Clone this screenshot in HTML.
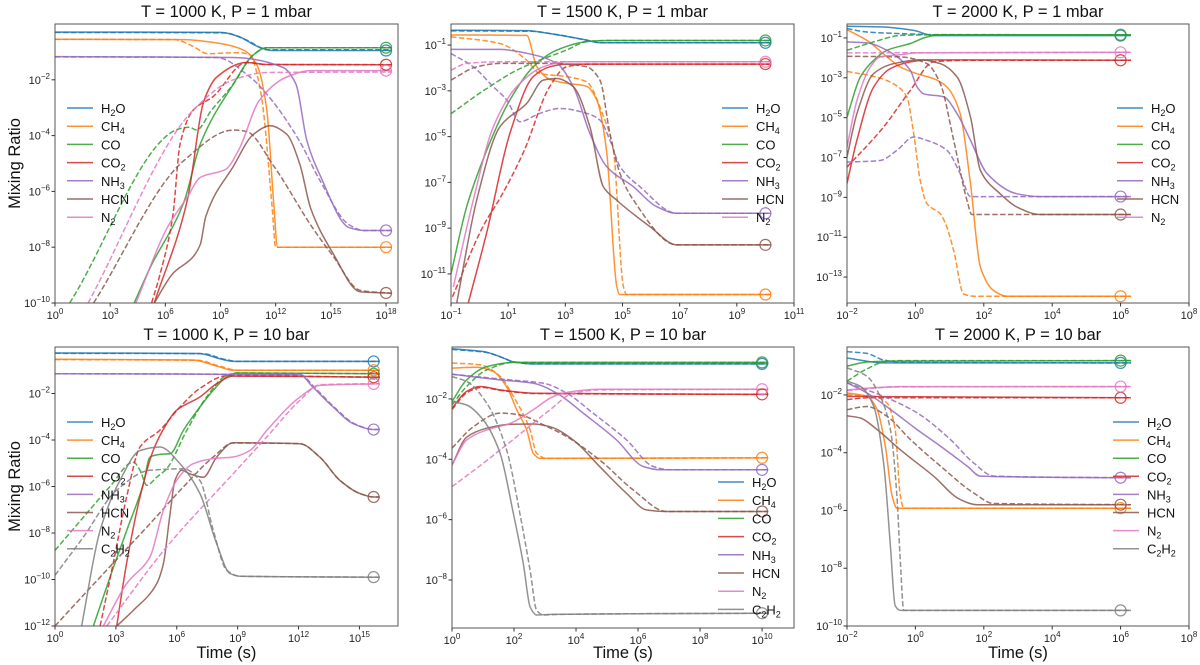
<!DOCTYPE html>
<html><head><meta charset="utf-8"><style>
html,body{margin:0;padding:0;background:#fff;}
svg{display:block;font-family:"Liberation Sans","DejaVu Sans",sans-serif;}
</style></head><body>
<svg id="fig" width="1200" height="665" viewBox="0 0 1200 665" xmlns="http://www.w3.org/2000/svg"></svg>
<script>
// ---------- DATA: [log10 time, log10 mixing ratio] ----------
// Panel TL: T=1000K, P=1 mbar
const tl_h2o=[[0,-.29],[9,-.3],[10,-.45],[11,-.8],[11.8,-.95],[18.3,-.95]];
const tl_h2o_d=[[0,-.3],[9.2,-.32],[10.5,-.6],[11.5,-.92],[18.3,-.92]];
const tl_ch4=[[0,-.55],[7,-.56],[9,-.7],[10.3,-.95],[11,-1.5],[11.5,-3],[11.9,-6.5],[12.1,-8],[18.3,-8]];
const tl_ch4_d=[[0,-.55],[6.5,-.56],[7.5,-.8],[8.3,-1.06],[10,-1.03],[10.6,-1.1],[11.2,-2.5],[11.8,-6.5],[12,-8],[18.3,-8]];
const tl_co=[[4.3,-10],[5.2,-8.7],[7,-6.4],[7.9,-4.3],[9.7,-2.15],[10.8,-1.1],[11.5,-.85],[18.3,-.85]];
const tl_co_d=[[0.8,-10],[6.8,-3.75],[7.3,-3.7],[7.7,-3.8],[8.5,-3.1],[9.7,-2.15],[10.8,-1.1],[11.5,-.85],[18.3,-.85]];
const tl_co2=[[5.4,-10],[7.2,-6.3],[8.1,-2.75],[8.8,-1.9],[10.4,-1.38],[11.5,-1.45],[18.3,-1.46]];
const tl_co2_d=[[5.25,-10],[5.7,-9],[6.4,-6.9],[6.8,-4.3],[7.5,-3.1],[8.6,-2.6],[10.4,-1.38],[11.5,-1.45],[18.3,-1.46]];
const tl_nh3=[[0,-1.17],[9.7,-1.2],[12.4,-1.56],[13.1,-2.15],[13.7,-4.2],[14.4,-5.4],[16,-7.3],[16.8,-7.4],[18.3,-7.4]];
const tl_nh3_d=[[0,-1.18],[8.8,-1.2],[10.6,-1.9],[11.5,-2.5],[13.3,-4.2],[14.4,-5.6],[16,-7.2],[16.8,-7.4],[18.3,-7.4]];
const tl_hcn=[[5.4,-10],[6.4,-8.95],[7.5,-8.35],[7.9,-7.9],[8.2,-6.9],[9.7,-5.1],[10.8,-3.95],[11.7,-3.65],[12.6,-3.95],[13.3,-5],[13.9,-6.6],[15.1,-8.2],[16.6,-9.6],[18.3,-9.65]];
const tl_hcn_d=[[2.1,-10],[7,-4.9],[9.7,-3.8],[10.4,-3.85],[11.9,-5.1],[14,-7.3],[15.1,-8.3],[16.6,-9.55],[18.3,-9.65]];
const tl_n2=[[4.4,-10],[6.1,-7.3],[7.2,-6.2],[7.9,-5.5],[9.3,-5.2],[10,-4.5],[11.1,-2.75],[12.6,-1.9],[13.9,-1.67],[18.3,-1.67]];
const tl_n2_d=[[1.8,-10],[7.5,-3.1],[9.7,-2],[11.5,-1.74],[18.3,-1.72]];
// Panel TM: T=1500K, P=1 mbar
const tm_h2o=[[-1,-.35],[1.65,-.37],[2.46,-.5],[3.74,-.78],[4.2,-.9],[10.2,-.9]];
const tm_h2o_d=[[-1,-.38],[1.8,-.4],[2.6,-.52],[3.8,-.8],[4.3,-.9],[10.2,-.9]];
const tm_ch4=[[-1,-.56],[1.65,-.58],[2,-1.95],[2.46,-2.5],[3.05,-2.67],[3.74,-2.8],[4.1,-3.4],[4.44,-5.6],[4.8,-11.55],[4.9,-11.9],[10.2,-11.9]];
const tm_ch4_d=[[-1,-.64],[.71,-.93],[1.65,-1.66],[2.1,-2.24],[3.04,-2.38],[3.74,-2.6],[4.33,-4.1],[4.68,-5.6],[5.03,-11.55],[5.14,-11.9],[10.2,-11.9]];
const tm_co=[[-1,-11],[-.45,-8.06],[.25,-5.6],[1.06,-3.4],[1.88,-1.95],[2.7,-1.22],[3.74,-.85],[4.5,-.8],[10.2,-.8]];
const tm_co_d=[[-1,-4],[.13,-3],[1.3,-2.1],[2.1,-1.66],[3.04,-1.22],[3.74,-.85],[4.5,-.8],[10.2,-.8]];
const tm_co2=[[-.4,-12.3],[.25,-9.2],[1.06,-4.86],[1.88,-2.38],[2.46,-1.95],[3.04,-1.83],[10.2,-1.83]];
const tm_co2_d=[[-.95,-12],[.13,-8.9],[.71,-7.7],[1.53,-5.7],[2.46,-2.8],[3.04,-1.95],[3.8,-1.83],[10.2,-1.83]];
const tm_nh3=[[-1,-1.19],[.71,-1.19],[1.65,-1.36],[2.7,-1.8],[3.28,-2.82],[3.86,-4.86],[4.44,-6.3],[5.38,-7.19],[6.19,-8.06],[6.9,-8.35],[10.2,-8.35]];
const tm_nh3_d=[[-1,-1.37],[-.22,-1.95],[.48,-2.82],[.95,-3.4],[1.41,-4.35],[2.11,-3.98],[2.81,-3.77],[3.74,-3.98],[4.21,-4.28],[4.56,-5.15],[4.91,-6.3],[5.61,-7.19],[6.9,-8.35],[10.2,-8.35]];
const tm_hcn=[[-.8,-12.27],[-.1,-7.77],[.71,-4.57],[1.65,-3.55],[2.23,-2.53],[2.7,-2.46],[3.28,-2.82],[3.86,-4.57],[4.33,-7.19],[4.79,-7.77],[5.96,-8.93],[6.9,-9.73],[10.2,-9.73]];
const tm_hcn_d=[[-1,-2.53],[-.1,-1.95],[.71,-1.8],[2.46,-1.8],[3.74,-1.95],[4.21,-2.53],[4.56,-4.86],[4.91,-6.6],[5.38,-7.77],[6.9,-9.73],[10.2,-9.73]];
const tm_n2=[[-.92,-11.57],[-.22,-7.77],[.48,-4.57],[1.3,-2.82],[2.23,-1.95],[3.04,-1.73],[10.2,-1.73]];
const tm_n2_d=[[-1,-2.1],[-.45,-1.8],[.71,-1.73],[10.2,-1.73]];
// Panel TR: T=2000K, P=1 mbar
const tr_h2o=[[-2,-.41],[-.93,-.45],[-.05,-.62],[.53,-.88],[6.3,-.88]];
const tr_h2o_d=[[-2,-.53],[-1.42,-.7],[-.44,-.78],[.53,-.83],[6.3,-.84]];
const tr_ch4=[[-2,-.58],[-1.42,-1.12],[-.83,-1.95],[-.44,-2.46],[.05,-2.8],[.53,-3.04],[.92,-3.46],[1.31,-4.8],[1.61,-8.32],[1.9,-12.5],[2.29,-13.68],[2.68,-13.96],[6.3,-13.96]];
const tr_ch4_d=[[-2,-2.68],[-1.12,-2.97],[-.64,-3.3],[-.25,-3.97],[-.05,-5.8],[.14,-8.15],[.34,-9.32],[.73,-9.83],[.92,-10.5],[1.12,-11.67],[1.41,-13.85],[1.7,-13.96],[6.3,-13.96]];
const tr_co=[[-2,-4.97],[-1.61,-2.96],[-1.22,-2.12],[-.83,-1.62],[-.15,-1.28],[.34,-.95],[.73,-.84],[6.3,-.84]];
const tr_co_d=[[-2,-1.62],[-1.22,-1.2],[-.44,-.87],[.5,-.84],[6.3,-.84]];
const tr_co2=[[-2,-8.3],[-1.71,-6.13],[-1.22,-3.46],[-.73,-2.54],[-.15,-2.2],[.34,-2.1],[6.3,-2.12]];
const tr_co2_d=[[-2,-7.48],[-.93,-5.47],[-.15,-3.63],[.53,-2.2],[1.51,-2.12],[6.3,-2.12]];
const tr_nh3=[[-2,-1.2],[-1.42,-1.25],[-.83,-1.62],[-.15,-2.62],[.05,-3.46],[.24,-3.8],[.83,-3.96],[1.22,-4.8],[1.61,-6.14],[2.1,-7.81],[2.97,-8.82],[3.65,-8.96],[6.3,-8.96]];
const tr_nh3_d=[[-2,-7.23],[-1.03,-7.15],[-.54,-6.64],[-.05,-5.97],[.34,-6.14],[.92,-6.64],[1.31,-7.81],[1.61,-8.96],[6.3,-8.96]];
const tr_hcn=[[-2,-6.98],[-1.71,-4.8],[-1.22,-2.79],[-.64,-2.29],[.14,-2.09],[.73,-2.29],[1.22,-2.96],[1.61,-4.97],[1.9,-7.65],[2.48,-8.82],[2.97,-9.49],[3.65,-9.86],[6.3,-9.86]];
const tr_hcn_d=[[-2,-1.92],[-.44,-1.95],[.34,-2.29],[.73,-3.3],[1.12,-6.14],[1.51,-9.15],[1.65,-9.86],[6.3,-9.86]];
const tr_n2=[[-2,-6.48],[-1.71,-4.14],[-1.32,-2.46],[-1.03,-1.95],[-.44,-1.84],[.05,-1.75],[6.3,-1.72]];
const tr_n2_d=[[-2,-1.75],[6.3,-1.72]];
// Panel BL: T=1000K, P=10 bar
const bl_h2o=[[0,-.26],[7.1,-.28],[8.1,-.5],[8.8,-.62],[16,-.62]];
const bl_h2o_d=[[0,-.27],[7.3,-.29],[8.3,-.52],[9,-.62],[16,-.62]];
const bl_ch4=[[0,-.53],[6.8,-.56],[7.9,-.8],[8.8,-1.0],[16,-1.0]];
const bl_ch4_d=[[0,-.54],[7,-.57],[8.1,-.82],[9,-1.0],[16,-1.0]];
const bl_co=[[1.89,-12],[2.71,-9.9],[3.53,-7.9],[4.35,-5.9],[4.68,-4.73],[5.17,-4.62],[5.67,-4.59],[6.32,-3.59],[7.14,-2.58],[7.8,-1.86],[8.46,-1.29],[8.95,-1.12],[16,-1.15]];
const bl_co_d=[[0,-8.75],[1.4,-7.32],[2.71,-6.0],[3.86,-4.95],[4.19,-5.3],[4.52,-5.95],[5.01,-5.6],[5.5,-5.24],[6.49,-3.59],[7.47,-2.15],[8.46,-1.22],[8.95,-1.12],[16,-1.15]];
const bl_co2=[[3.04,-12],[3.53,-9.3],[4.19,-6.45],[4.84,-4.45],[5.5,-3.3],[5.99,-2.72],[7.14,-2.15],[7.96,-1.58],[8.78,-1.25],[16,-1.3]];
const bl_co2_d=[[2.22,-12],[2.87,-9.3],[3.53,-6.45],[4.19,-4.3],[5.17,-3.58],[6.16,-2.58],[7.14,-1.78],[8.46,-1.24],[16,-1.3]];
const bl_nh3=[[0,-1.15],[12.07,-1.2],[12.7,-1.72],[13.7,-2.58],[14.7,-3.3],[15.7,-3.55],[16,-3.55]];
const bl_nh3_d=[[0,-1.15],[12.1,-1.2],[12.8,-1.75],[13.8,-2.62],[14.8,-3.32],[15.7,-3.55],[16,-3.55]];
const bl_hcn=[[3.04,-12],[3.86,-11.33],[5.01,-10.18],[5.34,-9.32],[5.67,-7.17],[5.91,-5.74],[6.24,-5.3],[6.65,-5.46],[7.31,-5.6],[7.96,-4.74],[8.78,-4.12],[12.07,-4.16],[13.05,-4.74],[14.04,-5.74],[15.02,-6.3],[15.7,-6.45],[16,-6.45]];
const bl_hcn_d=[[0,-12],[2.22,-9.9],[4.68,-7.6],[6.32,-6.02],[7.8,-4.73],[8.78,-4.13],[12.07,-4.16],[13.05,-4.74],[14.04,-5.74],[15.02,-6.3],[15.7,-6.45],[16,-6.45]];
const bl_n2=[[2.38,-12],[3.53,-10.18],[4.68,-9.03],[5.34,-7.02],[5.99,-5.74],[6.81,-5.02],[7.8,-4.8],[8.78,-4.73],[9.61,-4.45],[10.43,-3.59],[12.07,-2.15],[13.05,-1.65],[16,-1.58]];
const bl_n2_d=[[2.55,-12],[5.5,-8.6],[8.78,-5.45],[10.43,-3.87],[12.07,-2.29],[13.05,-1.62],[16,-1.58]];
const bl_c2h2=[[1.31,-12],[2.22,-7.89],[3.2,-5.74],[4.19,-4.45],[5.17,-4.3],[6.16,-5.02],[7.14,-6.3],[7.96,-8.45],[8.62,-9.74],[9.11,-9.86],[16,-9.9]];
const bl_c2h2_d=[[0,-9.82],[1.4,-8.17],[3.04,-6.16],[4.68,-5.3],[6.32,-5.24],[7.14,-5.74],[7.8,-7.89],[8.46,-9.6],[9.11,-9.86],[16,-9.9]];
// Panel BM: T=1500K, P=10 bar
const bm_h2o=[[0,-.34],[1.01,-.43],[1.55,-.6],[1.98,-.77],[2.6,-.84],[10.2,-.84]];
const bm_h2o_d=[[0,-.36],[1.1,-.46],[1.65,-.64],[2.05,-.79],[2.7,-.84],[10.2,-.84]];
const bm_ch4=[[0,-.98],[.8,-.95],[1.33,-1.09],[1.76,-1.6],[2.09,-2.36],[2.41,-3.03],[2.62,-3.8],[2.84,-3.97],[10.2,-3.95]];
const bm_ch4_d=[[0,-.81],[.9,-.87],[1.55,-1.25],[1.98,-1.92],[2.52,-3.03],[2.73,-3.8],[3.05,-3.97],[10.2,-3.95]];
const bm_co=[[0,-2.09],[.47,-1.37],[1.12,-.93],[1.98,-.79],[10.2,-.79]];
const bm_co_d=[[0,-2.2],[.47,-1.59],[1.12,-1.04],[1.98,-.79],[10.2,-.79]];
const bm_co2=[[0,-2.31],[.47,-1.75],[.9,-1.59],[1.55,-1.7],[2.62,-1.81],[10.2,-1.85]];
const bm_co2_d=[[0,-2.35],[.5,-1.78],[.95,-1.62],[1.6,-1.72],[2.7,-1.82],[10.2,-1.85]];
const bm_nh3=[[0,-1.18],[1.55,-1.37],[2.62,-1.48],[3.38,-1.81],[4.24,-2.48],[5.31,-3.36],[6.17,-4.24],[6.71,-4.35],[10.2,-4.35]];
const bm_nh3_d=[[0,-1.18],[1.87,-1.37],[2.95,-1.48],[3.7,-1.81],[4.56,-2.48],[5.63,-3.36],[6.49,-4.24],[7.03,-4.35],[10.2,-4.35]];
const bm_hcn=[[0,-4.19],[.47,-3.27],[1.12,-2.97],[1.87,-2.84],[2.62,-2.83],[3.16,-2.92],[3.91,-3.36],[4.77,-4.25],[5.63,-5.13],[6.28,-5.68],[6.92,-5.73],[10.2,-5.73]];
const bm_hcn_d=[[0,-3.63],[.69,-2.92],[1.55,-2.47],[2.19,-2.53],[2.95,-2.86],[3.7,-3.25],[4.77,-4.03],[5.85,-5.02],[6.92,-5.73],[10.2,-5.73]];
const bm_n2=[[0,-4.19],[.47,-3.36],[1.12,-3.03],[1.87,-2.81],[2.62,-2.36],[3.27,-1.92],[3.91,-1.75],[4.77,-1.68],[10.2,-1.68]];
const bm_n2_d=[[0,-4.91],[1.01,-4.13],[2.09,-3.25],[3.16,-2.36],[3.91,-1.81],[4.77,-1.7],[10.2,-1.68]];
const bm_c2h2=[[0,-2.09],[.47,-2.2],[1.01,-2.7],[1.55,-3.8],[1.98,-5.8],[2.3,-7.46],[2.52,-8.89],[2.73,-9.16],[3.2,-9.14],[10.2,-9.1]];
const bm_c2h2_d=[[0,-1.26],[.47,-1.42],[1.12,-2.14],[1.76,-3.69],[2.19,-5.8],[2.52,-7.68],[2.73,-9.0],[2.95,-9.16],[3.4,-9.14],[10.2,-9.1]];
// Panel BR: T=2000K, P=10 bar
const br_h2o=[[-2,-.72],[-.93,-.89],[6.3,-.89]];
const br_h2o_d=[[-2,-.5],[-1.42,-.56],[-.93,-.79],[-.44,-.87],[6.3,-.89]];
const br_ch4=[[-2,-1.93],[-1.42,-2.05],[-1.12,-2.5],[-.88,-3.77],[-.68,-5.5],[-.54,-5.92],[6.3,-5.92]];
const br_ch4_d=[[-2,-1.99],[-1.22,-2.05],[-.83,-2.28],[-.59,-3.2],[-.44,-5.5],[-.34,-5.92],[6.3,-5.92]];
const br_co=[[-2,-1.0],[-1.42,-.86],[-.93,-.83],[6.3,-.81]];
const br_co_d=[[-2,-1.52],[-1.42,-1.1],[-.93,-.86],[-.44,-.81],[6.3,-.81]];
const br_co2=[[-2,-2.05],[6.3,-2.1]];
const br_co2_d=[[-2,-2.16],[-1.4,-2.1],[6.3,-2.1]];
const br_nh3=[[-2,-1.58],[-1.42,-1.93],[-.73,-2.5],[.05,-3.2],[.73,-3.77],[1.51,-4.46],[1.9,-4.81],[6.3,-4.87]];
const br_nh3_d=[[-2,-1.58],[-.93,-2.05],[.05,-2.62],[1.02,-3.54],[1.7,-4.35],[2.29,-4.81],[6.3,-4.87]];
const br_hcn=[[-2,-2.72],[-1.61,-2.8],[-1.12,-3.2],[-.44,-3.9],[.53,-4.81],[1.31,-5.62],[1.8,-5.8],[6.3,-5.8]];
const br_hcn_d=[[-2,-2.51],[-1.42,-2.4],[-.83,-2.74],[-.15,-3.54],[.73,-4.46],[1.7,-5.39],[2.29,-5.76],[6.3,-5.8]];
const br_n2=[[-2,-1.83],[-1.42,-1.77],[-.44,-1.71],[6.3,-1.71]];
const br_n2_d=[[-2,-1.85],[-1.42,-1.78],[-.44,-1.72],[6.3,-1.71]];
const br_c2h2=[[-2,-1.52],[-1.61,-1.7],[-1.22,-2.39],[-.93,-4.35],[-.73,-7.23],[-.59,-9.3],[-.44,-9.46],[6.3,-9.46]];
const br_c2h2_d=[[-2,-1.06],[-1.42,-1.35],[-1.03,-2.05],[-.73,-3.2],[-.54,-5.5],[-.44,-7.8],[-.34,-9.46],[6.3,-9.46]];

// markers (end times, log10)
const markT=[18,10,6,15.7,10,6];

// tick values per panel
const tl_xt=[0,3,6,9,12,15,18], tl_yt=[-10,-8,-6,-4,-2];
const tm_xt=[-1,1,3,5,7,9,11], tm_yt=[-11,-9,-7,-5,-3,-1];
const tr_xt=[-2,0,2,4,6,8], tr_yt=[-13,-11,-9,-7,-5,-3,-1];
const bl_xt=[0,3,6,9,12,15], bl_yt=[-12,-10,-8,-6,-4,-2];
const bm_xt=[0,2,4,6,8,10], bm_yt=[-8,-6,-4,-2];
const br_xt=[-2,0,2,4,6,8], br_yt=[-10,-8,-6,-4,-2];

const COLORS={h2o:'#1f77b4',ch4:'#ff7f0e',co:'#2ca02c',co2:'#d62728',nh3:'#9467bd',hcn:'#8c564b',n2:'#e377c2',c2h2:'#7f7f7f'};
const LABELS={h2o:['H','2','O'],ch4:['CH','4',''],co:['CO','',''],co2:['CO','2',''],nh3:['NH','3',''],hcn:['HCN','',''],n2:['N','2',''],c2h2:['C','2','H','2']};

const panels=[
 {id:'tl',title:'T = 1000 K, P = 1 mbar',L:55,T:24,R:398,B:303,x0:0,x1:18.65,y0:-10,y1:0,xt:tl_xt,yt:tl_yt,sp:['h2o','ch4','co','co2','nh3','hcn','n2'],
  series:{h2o:[tl_h2o,tl_h2o_d],ch4:[tl_ch4,tl_ch4_d],co:[tl_co,tl_co_d],co2:[tl_co2,tl_co2_d],nh3:[tl_nh3,tl_nh3_d],hcn:[tl_hcn,tl_hcn_d],n2:[tl_n2,tl_n2_d]},
  leg:{x:67,y:108,dy:18.2},ylab:true,xlab:false},
 {id:'tm',title:'T = 1500 K, P = 1 mbar',L:451,T:24,R:794,B:303,x0:-1,x1:11,y0:-12.27,y1:-0.08,xt:tm_xt,yt:tm_yt,sp:['h2o','ch4','co','co2','nh3','hcn','n2'],
  series:{h2o:[tm_h2o,tm_h2o_d],ch4:[tm_ch4,tm_ch4_d],co:[tm_co,tm_co_d],co2:[tm_co2,tm_co2_d],nh3:[tm_nh3,tm_nh3_d],hcn:[tm_hcn,tm_hcn_d],n2:[tm_n2,tm_n2_d]},
  leg:{x:722,y:108,dy:18.2}},
 {id:'tr',title:'T = 2000 K, P = 1 mbar',L:847,T:24,R:1189,B:303,x0:-2,x1:8,y0:-14.3,y1:-0.3,xt:tr_xt,yt:tr_yt,sp:['h2o','ch4','co','co2','nh3','hcn','n2'],
  series:{h2o:[tr_h2o,tr_h2o_d],ch4:[tr_ch4,tr_ch4_d],co:[tr_co,tr_co_d],co2:[tr_co2,tr_co2_d],nh3:[tr_nh3,tr_nh3_d],hcn:[tr_hcn,tr_hcn_d],n2:[tr_n2,tr_n2_d]},
  leg:{x:1117,y:108,dy:18.2}},
 {id:'bl',title:'T = 1000 K, P = 10 bar',L:55,T:347,R:398,B:626,x0:0,x1:16.9,y0:-12,y1:0,xt:bl_xt,yt:bl_yt,sp:['h2o','ch4','co','co2','nh3','hcn','n2','c2h2'],
  series:{h2o:[bl_h2o,bl_h2o_d],ch4:[bl_ch4,bl_ch4_d],co:[bl_co,bl_co_d],co2:[bl_co2,bl_co2_d],nh3:[bl_nh3,bl_nh3_d],hcn:[bl_hcn,bl_hcn_d],n2:[bl_n2,bl_n2_d],c2h2:[bl_c2h2,bl_c2h2_d]},
  leg:{x:67,y:422,dy:18.1},ylab:true,xlab:true},
 {id:'bm',title:'T = 1500 K, P = 10 bar',L:452,T:347,R:794,B:628,x0:0,x1:11.03,y0:-9.59,y1:-0.28,xt:bm_xt,yt:bm_yt,sp:['h2o','ch4','co','co2','nh3','hcn','n2','c2h2'],
  series:{h2o:[bm_h2o,bm_h2o_d],ch4:[bm_ch4,bm_ch4_d],co:[bm_co,bm_co_d],co2:[bm_co2,bm_co2_d],nh3:[bm_nh3,bm_nh3_d],hcn:[bm_hcn,bm_hcn_d],n2:[bm_n2,bm_n2_d],c2h2:[bm_c2h2,bm_c2h2_d]},
  leg:{x:718,y:482,dy:18.2},xlab:true},
 {id:'br',title:'T = 2000 K, P = 10 bar',L:847,T:347,R:1189,B:626,x0:-2,x1:8,y0:-10,y1:-0.34,xt:br_xt,yt:br_yt,sp:['h2o','ch4','co','co2','nh3','hcn','n2','c2h2'],
  series:{h2o:[br_h2o,br_h2o_d],ch4:[br_ch4,br_ch4_d],co:[br_co,br_co_d],co2:[br_co2,br_co2_d],nh3:[br_nh3,br_nh3_d],hcn:[br_hcn,br_hcn_d],n2:[br_n2,br_n2_d],c2h2:[br_c2h2,br_c2h2_d]},
  leg:{x:1113,y:422,dy:18.1},xlab:true}
];

const NS='http://www.w3.org/2000/svg';
const svg=document.getElementById('fig');
function mk(tag,attrs,parent){const e=document.createElementNS(NS,tag);for(const k in attrs)e.setAttribute(k,attrs[k]);(parent||svg).appendChild(e);return e;}
// monotone cubic interpolation (Fritsch-Carlson) in pixel space, x increasing
function smooth(p){
  const n=p.length;
  if(n<3){return 'M'+p.map(q=>q[0].toFixed(1)+','+q[1].toFixed(1)).join('L');}
  const dx=[],s=[];
  for(let i=0;i<n-1;i++){dx.push(p[i+1][0]-p[i][0]);s.push((p[i+1][1]-p[i][1])/dx[i]);}
  const m=new Array(n);
  m[0]=s[0];m[n-1]=s[n-2];
  for(let i=1;i<n-1;i++){
    if(s[i-1]*s[i]<=0)m[i]=0;
    else{const w1=2*dx[i]+dx[i-1],w2=dx[i]+2*dx[i-1];m[i]=(w1+w2)/(w1/s[i-1]+w2/s[i]);}
  }
  let d='M'+p[0][0].toFixed(1)+','+p[0][1].toFixed(1);
  for(let i=0;i<n-1;i++){
    const h=dx[i]/3;
    d+='C'+(p[i][0]+h).toFixed(1)+','+(p[i][1]+m[i]*h).toFixed(1)+' '+(p[i+1][0]-h).toFixed(1)+','+(p[i+1][1]-m[i+1]*h).toFixed(1)+' '+p[i+1][0].toFixed(1)+','+p[i+1][1].toFixed(1);
  }
  return d;
}
function tickLabel(g,x,y,exp,anchor){
  const t=mk('text',{x:x,y:y,'font-size':11,'text-anchor':anchor,fill:'#222'},g);
  t.appendChild(document.createTextNode('10'));
  const s=mk('tspan',{dy:-5,'font-size':8},t);
  s.textContent=(exp<0?'\u2212':'')+Math.abs(exp);
  return t;
}
function interp(arr,x){
  for(let i=0;i<arr.length-1;i++){if(x>=arr[i][0]&&x<=arr[i+1][0]){const f=(x-arr[i][0])/(arr[i+1][0]-arr[i][0]);return arr[i][1]+f*(arr[i+1][1]-arr[i][1]);}}
  return arr[arr.length-1][1];
}

panels.forEach((P,pi)=>{
  const g=mk('g',{});
  
  
  const sx=v=>P.L+(v-P.x0)/(P.x1-P.x0)*(P.R-P.L);
  const sy=v=>P.B-(v-P.y0)/(P.y1-P.y0)*(P.B-P.T);
  const clip=mk('clipPath',{id:'clip-'+P.id},g);
  mk('rect',{x:P.L,y:P.T,width:P.R-P.L,height:P.B-P.T},clip);
  const sg=mk('g',{'clip-path':'url(#clip-'+P.id+')'},g);
  P.sp.forEach(k=>{
    const [sol,das]=P.series[k];
    const pd=mk('path',{d:smooth(das.map(q=>[sx(q[0]),sy(q[1])])),fill:'none',stroke:COLORS[k],'stroke-width':1.5,'stroke-dasharray':'5.5,2.4','stroke-opacity':0.85},sg);
    
    
    const ps=mk('path',{d:smooth(sol.map(q=>[sx(q[0]),sy(q[1])])),fill:'none',stroke:COLORS[k],'stroke-width':1.5,'stroke-opacity':0.85},sg);
    
    
    const c=mk('circle',{cx:sx(markT[pi]),cy:sy(interp(sol,markT[pi])),r:5.5,fill:'none',stroke:COLORS[k],'stroke-width':1.2,'stroke-opacity':0.85},g);
    
    
  });
  const fr=mk('rect',{x:P.L,y:P.T,width:P.R-P.L,height:P.B-P.T,fill:'none',stroke:'#555','stroke-width':1},g);
  
  
  const xg=mk('g',{},g);
  
  
  P.xt.forEach(v=>{const x=sx(v);mk('line',{x1:x,x2:x,y1:P.B,y2:P.B+3.5,stroke:'#333'},xg);tickLabel(xg,x,P.B+16,v,'middle');});
  const yg=mk('g',{},g);
  
  
  P.yt.forEach(v=>{const y=sy(v);mk('line',{x1:P.L-3.5,x2:P.L,y1:y,y2:y,stroke:'#333'},yg);tickLabel(yg,P.L-5,y+4,v,'end');});
  const tt=mk('text',{x:(P.L+P.R)/2,y:P.T-7,'font-size':16.5,'text-anchor':'middle',fill:'#111'},g);
  tt.textContent=P.title;
  
  
  if(P.ylab){const yl=mk('text',{x:0,y:0,'font-size':16.5,'text-anchor':'middle',fill:'#111',transform:'translate(20,'+((P.T+P.B)/2)+') rotate(-90)'},g);
    yl.textContent='Mixing Ratio';
    
    }
  if(P.xlab){const xl=mk('text',{x:(P.L+P.R)/2,y:658,'font-size':16.5,'text-anchor':'middle',fill:'#111'},g);
    xl.textContent='Time (s)';
    
    }
  const lg=mk('g',{},g);
  
  
  P.sp.forEach((k,i)=>{
    const y=P.leg.y+i*P.leg.dy;
    const e=mk('g',{},lg);
    
    
    mk('line',{x1:P.leg.x,x2:P.leg.x+26,y1:y,y2:y,stroke:COLORS[k],'stroke-width':1.5,'stroke-opacity':0.85},e);
    const t=mk('text',{x:P.leg.x+34,y:y+5,'font-size':13,fill:'#111'},e);
    const lab=LABELS[k];
    for(let j=0;j<lab.length;j++){
      if(!lab[j])continue;
      if(j%2===1){const s=mk('tspan',{dy:3,'font-size':9},t);s.textContent=lab[j];}
      else{const s=mk('tspan',j>0?{dy:-3}:{},t);s.textContent=lab[j];}
    }
  });
});
</script>
</body></html>
